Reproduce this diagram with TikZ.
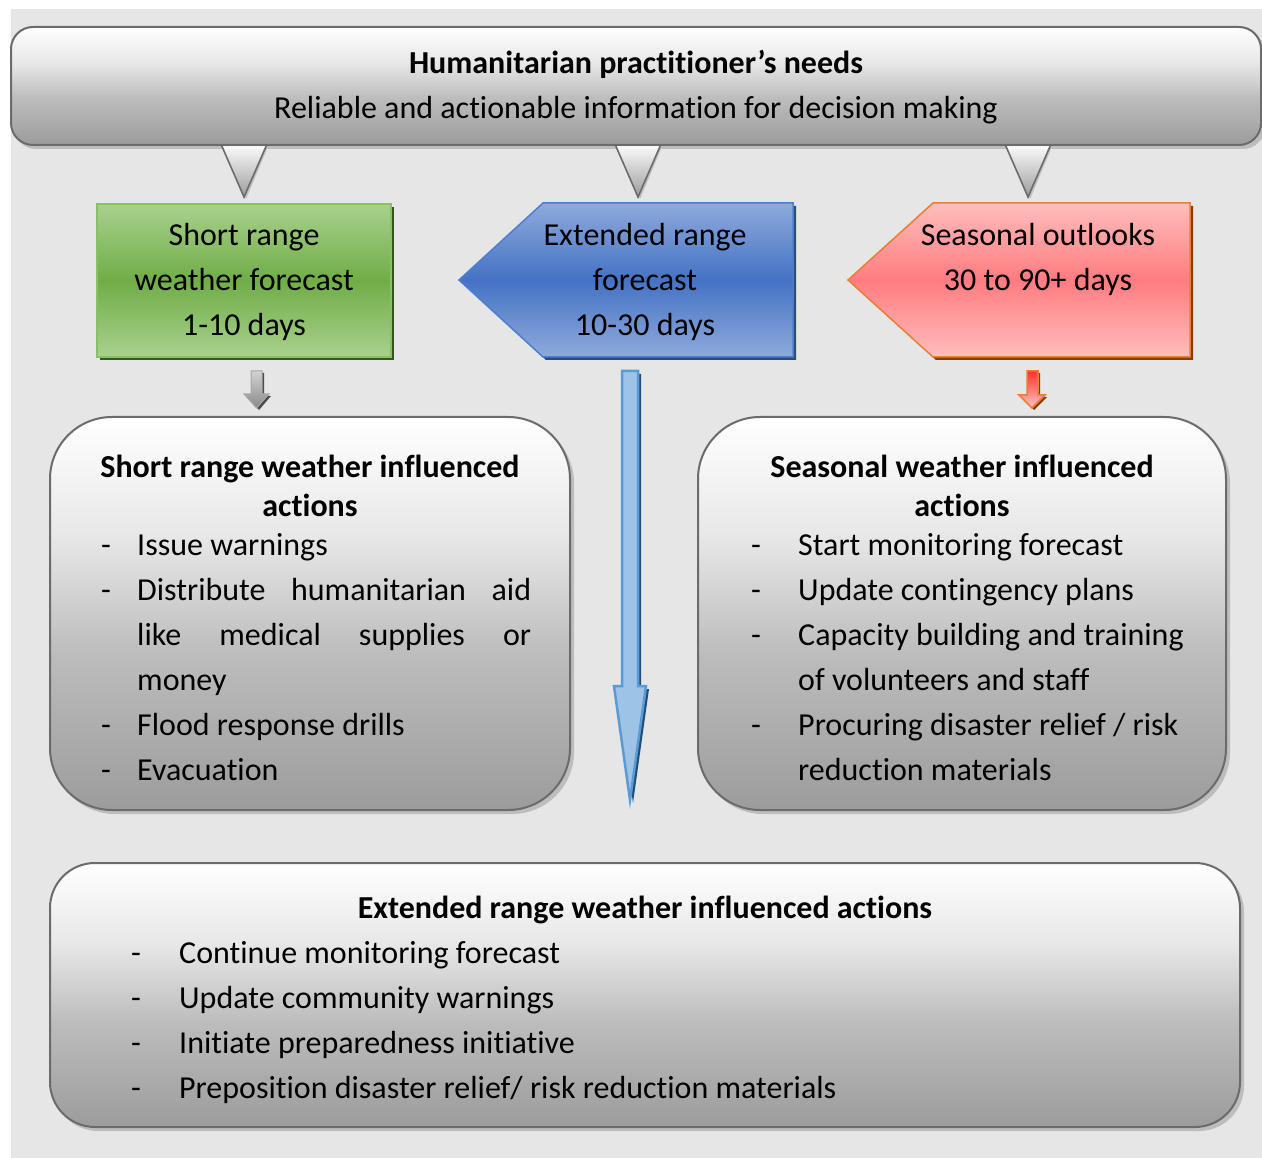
\documentclass[tikz,border=0pt]{standalone}
\usepackage{fontspec}
\setmainfont[Ligatures=NoCommon]{Carlito}
\usetikzlibrary{calc}
\definecolor{bg}{HTML}{E6E6E6}
\definecolor{boxline}{HTML}{6B6B6B}
\definecolor{shadowgray}{HTML}{BDBDBD}
\definecolor{svA}{HTML}{9C9C9C}
\definecolor{svB}{HTML}{BDBDBD}
\definecolor{svC}{HTML}{E8E8E8}
\definecolor{grLight}{HTML}{A9D18E}
\definecolor{grMid}{HTML}{70AD47}
\definecolor{grLine}{HTML}{86C262}
\definecolor{grShadow}{HTML}{375623}
\definecolor{blLight}{HTML}{8FAADC}
\definecolor{blMid}{HTML}{4472C4}
\definecolor{blLine}{HTML}{4A7ED2}
\definecolor{blShadow}{HTML}{2F4A80}
\definecolor{rdLight}{HTML}{FFBDBD}
\definecolor{rdMid}{HTML}{FF7C80}
\definecolor{rdLine}{HTML}{ED7D31}
\definecolor{rdShadow}{HTML}{843C0C}
\definecolor{arBlue}{HTML}{9DC3E6}
\definecolor{arBlueLine}{HTML}{5B9BD5}
\definecolor{arBlueShadow}{HTML}{1F4E79}
\definecolor{arRed}{HTML}{FF3030}
\definecolor{arPink}{HTML}{FFC4C4}
\definecolor{arGrayT}{HTML}{D2D2D2}
\definecolor{arGrayB}{HTML}{8A8A8A}
\definecolor{arGrayLine}{HTML}{A8A8A8}
\pgfdeclareverticalshading{silver}{100bp}{color(0bp)=(svA); color(25bp)=(svA); color(45bp)=(svB); color(60bp)=(svC); color(75bp)=(white); color(100bp)=(white)}
\tikzset{
  txt/.style={anchor=base, inner sep=0pt, font=\fontsize{32}{38}\selectfont},
  item/.style={anchor=base west, inner sep=0pt, font=\fontsize{32}{38}\selectfont},
  ttl/.style={anchor=base, inner sep=0pt, font=\fontsize{32}{38}\selectfont\bfseries},
  silverbox/.style={shading=silver, draw=boxline, line width=2pt},
  softshadow/.style={fill=shadowgray},
}
\begin{document}
\begin{tikzpicture}[x=1pt,y=-1pt]
\useasboundingbox (0,0) rectangle (1262,1158);
\fill[bg] (11,9) rectangle (1262,1158);

% top box shadow
\fill[softshadow, rounded corners=22pt] (14,31) rectangle (1265,149);
% triangles
\foreach \cx/\nm in {244/triA, 638/triB, 1028/triC}{
  \fill[shadowgray] (\cx-23.5+2,143) -- (\cx+23.5+2,143) -- (\cx+2,199) -- cycle;
  \shadedraw[top color=white, bottom color=svA, draw=boxline, line width=1.6pt] (\cx-23.5,143) -- (\cx+23.5,143) -- (\cx,197) -- cycle;
  \coordinate (\nm) at (\cx,197);
}
% top box
\shadedraw[silverbox, rounded corners=22pt] (11,27) rectangle (1261,145);
\node[ttl] (needs) at (636,74) {Humanitarian practitioner’s needs};
\node[txt] (needs2) at (636,119) {Reliable and actionable information for decision making};

% green box
\fill[grShadow] (100,207) rectangle (394,360);
\shadedraw[draw=grLine, line width=1.5pt, top color=grLight, bottom color=grLight, middle color=grMid] (97,204) rectangle (391,357);
\node[txt] (sr1) at (244,246) {Short range};
\node[txt] (sr2) at (244,291) {weather forecast};
\node[txt] (sr3) at (244,336) {1-10 days};

% blue pentagon
\fill[blShadow] (462,283) -- (546,206) -- (796,206) -- (796,360) -- (546,360) -- cycle;
\shadedraw[draw=blLine, line width=1.5pt, top color=blLight, bottom color=blLight, middle color=blMid] (459,280) -- (543,203) -- (793,203) -- (793,357) -- (543,357) -- cycle;
\node[txt] (er1) at (645,246) {Extended range};
\node[txt] (er2) at (645,291) {forecast};
\node[txt] (er3) at (645,336) {10-30 days};

% red pentagon
\fill[rdShadow] (851,283) -- (936,206) -- (1193,206) -- (1193,360) -- (936,360) -- cycle;
\shadedraw[draw=rdLine, line width=1.5pt, top color=rdLight, bottom color=rdLight, middle color=rdMid] (848,280) -- (933,203) -- (1190,203) -- (1190,357) -- (933,357) -- cycle;
\node[txt] (so1) at (1038,246) {Seasonal outlooks};
\node[txt] (so2) at (1038,291) {30 to 90+ days};

% small gray arrow
\fill[black!70] (253,373) -- (264,373) -- (264,396) -- (271,396) -- (259,410) -- (247,396) -- (253,396) -- cycle;
\shadedraw[top color=arGrayT, bottom color=arGrayB, draw=arGrayLine, line width=1pt] (251,371) -- (262,371) -- (262,394) -- (269,394) -- (256.5,408) -- (244,394) -- (251,394) -- cycle;

% small red arrow
\fill[rdShadow] (1029,373) -- (1040,373) -- (1040,397) -- (1047,397) -- (1034,410) -- (1021,397) -- (1029,397) -- cycle;
\shadedraw[top color=arRed, bottom color=arPink, draw=rdLine, line width=1.5pt] (1027,371) -- (1038,371) -- (1038,395) -- (1045,395) -- (1032,408) -- (1019,395) -- (1027,395) -- cycle;

% long blue arrow
\fill[arBlueShadow] (625,374) -- (641,374) -- (641,689) -- (649,689) -- (633,803) -- (617,689) -- (625,689) -- cycle;
\filldraw[fill=arBlue, draw=arBlueLine, line width=2.5pt, line join=miter] (622,371) -- (638,371) -- (638,686) -- (646,686) -- (630,800) -- (614,686) -- (622,686) -- cycle;

% left action box
\fill[softshadow, rounded corners=62pt] (53,421) rectangle (574,814);
\shadedraw[silverbox, rounded corners=62pt] (50,417) rectangle (570,810);
\node[ttl] (sa1) at (310,477) {Short range weather influenced};
\node[ttl] (sa2) at (310,516) {actions};
\foreach \yy/\tx/\nm in {555/Issue warnings/la, 735/Flood response drills/ld, 780/Evacuation/le}{
  \node[item] (\nm) at (137,\yy) {\tx};
}
\node[item] (lb) at (137,600) {\hbox to 394pt{Distribute\hfill humanitarian\hfill aid}};
\node[item] (lc) at (137,645) {\hbox to 394pt{like\hfill medical\hfill supplies\hfill or}};
\node[item] (lc2) at (137,690) {money};
\foreach \yy/\nm in {555/lda, 600/ldb, 735/ldd, 780/lde}{
  \node[item] (\nm) at (101,\yy) {-};
}

% right action box
\fill[softshadow, rounded corners=62pt] (701,421) rectangle (1230,814);
\shadedraw[silverbox, rounded corners=62pt] (698,417) rectangle (1226,810);
\node[ttl] (ra1) at (962,477) {Seasonal weather influenced};
\node[ttl] (ra2) at (962,516) {actions};
\node[item] (ri1) at (798,555) {Start monitoring forecast};
\node[item] (ri2) at (798,600) {Update contingency plans};
\node[item] (ri3) at (798,645) {Capacity building and training};
\node[item] (ri3b) at (798,690) {of volunteers and staff};
\node[item] (ri4) at (798,735) {Procuring disaster relief / risk};
\node[item] (ri4b) at (798,780) {reduction materials};
\foreach \yy/\nm in {555/rda, 600/rdb, 645/rdc, 735/rdd}{
  \node[item] (\nm) at (751,\yy) {-};
}

% bottom action box
\fill[softshadow, rounded corners=45pt] (53,867) rectangle (1244,1131);
\shadedraw[silverbox, rounded corners=45pt] (50,863) rectangle (1240,1127);
\node[ttl] (ea) at (645,918) {Extended range weather influenced actions};
\node[item] (ei1) at (179,963) {Continue monitoring forecast};
\node[item] (ei2) at (179,1008) {Update community warnings};
\node[item] (ei3) at (179,1053) {Initiate preparedness initiative};
\node[item] (ei4) at (179,1098) {Preposition disaster relief/ risk reduction materials};
\foreach \yy/\nm in {963/eda, 1008/edb, 1053/edc, 1098/edd}{
  \node[item] (\nm) at (131,\yy) {-};
}
\end{tikzpicture}
\end{document}
